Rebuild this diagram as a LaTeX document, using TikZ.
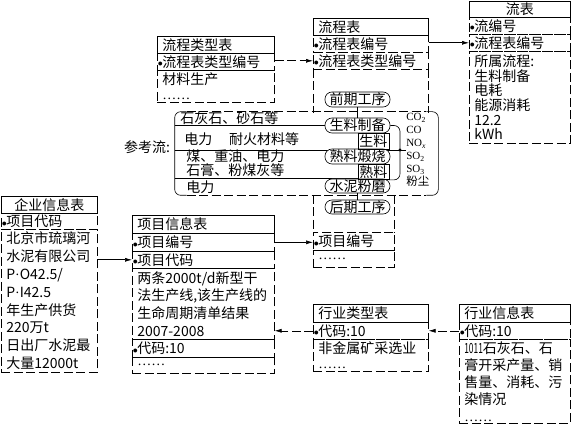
\documentclass[tikz,border=0pt]{standalone}
\usepackage{fontspec}
\setmainfont{Noto Sans CJK SC}
\newfontfamily\lserif{Liberation Serif}
\usetikzlibrary{arrows.meta,backgrounds}
\newcommand\kd{\raisebox{0.2pt}{$\scriptstyle\bullet$}\kern-0.5pt}
\newcommand\dd{{\lserif ……}}
\newcommand\md{{\lserif ·}}
\tikzset{
  dashy/.style={dash pattern=on 9pt off 3.5pt},
  cell/.style={anchor=north west, inner ysep=0pt, align=left},
  ttl/.style={cell, draw, inner xsep=5pt},
  keyrow/.style={cell, draw, dashy, inner xsep=0.5pt},
  bodyrow/.style={cell, draw, dashy, inner xsep=5pt},
  gongxu/.style={draw, fill=white, rounded corners=7pt, minimum width=65pt, minimum height=15pt, inner sep=0pt},
  arr/.style={-{Latex[length=7pt,width=4pt]}},
}
\begin{document}
\begin{tikzpicture}[x=1pt,y=-1pt,line width=0.6pt,font=\fontsize{14}{17}\selectfont]
\useasboundingbox (0,0) rectangle (571,425);
\node[ttl, text width=107pt, minimum height=17pt] (lxlx) at (157,36) {流程类型表};
\node[keyrow, text width=116pt, minimum height=17pt] (lxlx-key) at (157,53) {\kd 流程表类型编号};
\node[bodyrow, text width=107pt, minimum height=32pt, font=\fontsize{14}{15}\selectfont] (lxlx-body) at (157,70) {材料生产\\\dd};
\node[ttl, text width=105pt, minimum height=17pt] (lcb) at (313,18) {流程表};
\node[keyrow, text width=114pt, minimum height=17pt] (lcb-key1) at (313,35) {\kd 流程表编号};
\node[keyrow, text width=114pt, minimum height=17pt] (lcb-key2) at (313,52) {\kd 流程表类型编号};
\node[anchor=north west, inner sep=0pt, minimum width=115pt, minimum height=43pt] (lcb-top) at (313,69) {};
\node[anchor=north west, inner sep=0pt, minimum width=81pt, minimum height=37pt] (lcb-mid) at (313,195) {};
\node[keyrow, text width=80pt, minimum height=18pt] (lcb-xmbh) at (313,232) {\kd 项目编号};
\node[bodyrow, text width=71pt, minimum height=17pt] (lcb-more) at (313,250) {\dd};
\draw[dashy] (lcb-top.north west) -- (lcb-top.south west) (lcb-top.north east) -- (lcb-top.south east);
\draw[dashy] (lcb-mid.north west) -- (lcb-mid.south west) (lcb-mid.north east) -- (lcb-mid.south east);
\node[ttl, text width=91pt, minimum height=16pt, align=center] (lb) at (469,1) {流表};
\node[keyrow, text width=100pt, minimum height=17pt] (lb-key1) at (469,17) {\kd 流编号};
\node[keyrow, text width=100pt, minimum height=17pt] (lb-key2) at (469,34) {\kd 流程表编号};
\node[bodyrow, text width=91pt, minimum height=92pt, font=\fontsize{14}{14.6}\selectfont] (lb-body) at (469,51) {所属流程:\\生料制备\\电耗\\能源消耗\\12.2\\kWh};
\node[ttl, text width=86pt, minimum height=17pt, align=center] (qy) at (1,196) {企业信息表};
\node[keyrow, text width=95pt, minimum height=16pt] (qy-key) at (1,213) {\kd 项目代码};
\node[bodyrow, text width=86pt, minimum height=143pt, font=\fontsize{14}{17.8}\selectfont] (qy-body) at (1,229) {北京市琉璃河\\水泥有限公司\\P\md O42.5/\\P\md I42.5\\年生产供货\\220万t\\日出厂水泥最\\大量12000t};
\node[ttl, text width=132pt, minimum height=18pt] (xm) at (132,215) {项目信息表};
\node[keyrow, text width=141pt, minimum height=18pt] (xm-key1) at (132,233) {\kd 项目编号};
\node[keyrow, text width=141pt, minimum height=17pt] (xm-key2) at (132,251) {\kd 项目代码};
\node[bodyrow, text width=132pt, minimum height=71pt, font=\fontsize{14}{17.6}\selectfont] (xm-body) at (132,268) {两条2000t/d新型干\\法生产线,该生产线的\\生命周期清单结果\\2007-2008};
\node[keyrow, text width=141pt, minimum height=18pt] (xm-key3) at (132,339) {\kd 代码:10};
\node[bodyrow, text width=132pt, minimum height=16pt] (xm-more) at (132,357) {\dd};
\node[ttl, text width=105pt, minimum height=18pt] (hylx) at (313,304) {行业类型表};
\node[keyrow, text width=114pt, minimum height=17pt] (hylx-key) at (313,322) {\kd 代码:10};
\node[bodyrow, text width=105pt, minimum height=32pt, font=\fontsize{14}{15}\selectfont] (hylx-body) at (313,339) {非金属矿采选业\\\dd};
\node[ttl, text width=101pt, minimum height=18pt] (hyxx) at (459,304) {行业信息表};
\node[keyrow, text width=110pt, minimum height=17pt] (hyxx-key) at (459,322) {\kd 代码:10};
\node[bodyrow, text width=101pt, minimum height=84pt, font=\fontsize{14}{17}\selectfont] (hyxx-body) at (459,339) {\scalebox{0.6}[1]{1011}石灰石、石\\膏开采产量、销\\售量、消耗、污\\染情况\\\dd};
\node[inner sep=0pt, minimum width=263pt, minimum height=83pt] (ckl) at (306.5,153.5) {};
\node (ckl-t) at (147,147) {参考流:};
\node[anchor=west, inner sep=0pt] (r1) at (180,118.5) {石灰石、砂石等};
\node[anchor=west, inner sep=0pt] (r2) at (184,139.5) {电力\hspace{1.2em}耐火材料等};
\node[anchor=west, inner sep=0pt, align=left, font=\fontsize{14}{11.5}\selectfont] (r3) at (186,163) {煤、重油、电力\\石膏、粉煤灰等};
\node[anchor=west, inner sep=0pt] (r4) at (186,187.5) {电力};
\node[gongxu] (qqgx) at (357.5,99.5) {前期工序};
\node[gongxu] (slzb) at (357.5,125.5) {生料制备};
\node[gongxu] (slds) at (357.5,156.5) {熟料煅烧};
\node[gongxu, minimum height=14pt] (snfm) at (357.5,186) {水泥粉磨};
\node[gongxu, minimum height=14pt] (hqgx) at (357.5,207) {后期工序};
\node[draw, anchor=north west, minimum width=31pt, minimum height=16pt, inner sep=0pt] (sl) at (slzb.south) {生料};
\node[draw, anchor=north west, minimum width=31pt, minimum height=15pt, inner sep=0pt] (sk) at (slds.south) {熟料};
\coordinate (dot) at (400,150);
\node[anchor=west, align=left, inner sep=0pt, font=\lserif\fontsize{11}{13}\selectfont] (emis) at (406,150) {CO\textsubscript{2}\\CO\\NO\textsubscript{\textit{x}}\\SO\textsubscript{2}\\SO\textsubscript{3}\\{\normalfont\fontsize{11.5}{13}\selectfont 粉尘}};
\begin{scope}[on background layer]
\draw (ckl.west |- slzb) -- (slzb);
\draw (ckl.west |- dot) -- (dot);
\draw (ckl.west |- snfm.north) -- (snfm.north);
\end{scope}
\draw[rounded corners=6pt] ([xshift=12pt]ckl.north west) -- (ckl.north west) -- (ckl.south west) -- ([xshift=12pt]ckl.south west);
\draw[rounded corners=6pt] ([xshift=-12pt]ckl.north east) -- (ckl.north east) -- (ckl.south east) -- ([xshift=-12pt]ckl.south east);
\draw[dashy] ([xshift=12pt]ckl.north west) -- ([xshift=-12pt]ckl.north east);
\draw[dashy] ([xshift=12pt]ckl.south west) -- ([xshift=-12pt]ckl.south east);
\draw (qqgx) -- (slzb);
\draw (snfm) -- (hqgx);
\draw[rounded corners=6pt] (slzb.east) -| (dot) |- (sk.south east);
\fill (dot) circle (1.6pt);
\draw (dot) -- (emis.west);
\draw[dashy, arr] (lcb-key2.west -| lxlx-key.east) -- (lcb-key2.west);
\draw[arr] (lb-key2.west -| lcb-key1.east) -- (lb-key2.west);
\draw[arr] (xm-key2.west -| qy-body.east) -- (xm-key2.west);
\draw[arr] (xm-key1.east) -- (xm-key1.east -| lcb-xmbh.west);
\draw[dashy, arr] (hylx-key.west) -- (hylx-key.west -| xm-body.east);
\draw[dashy, arr] (hyxx-key.west) -- (hylx-key.east);
\end{tikzpicture}
\end{document}
